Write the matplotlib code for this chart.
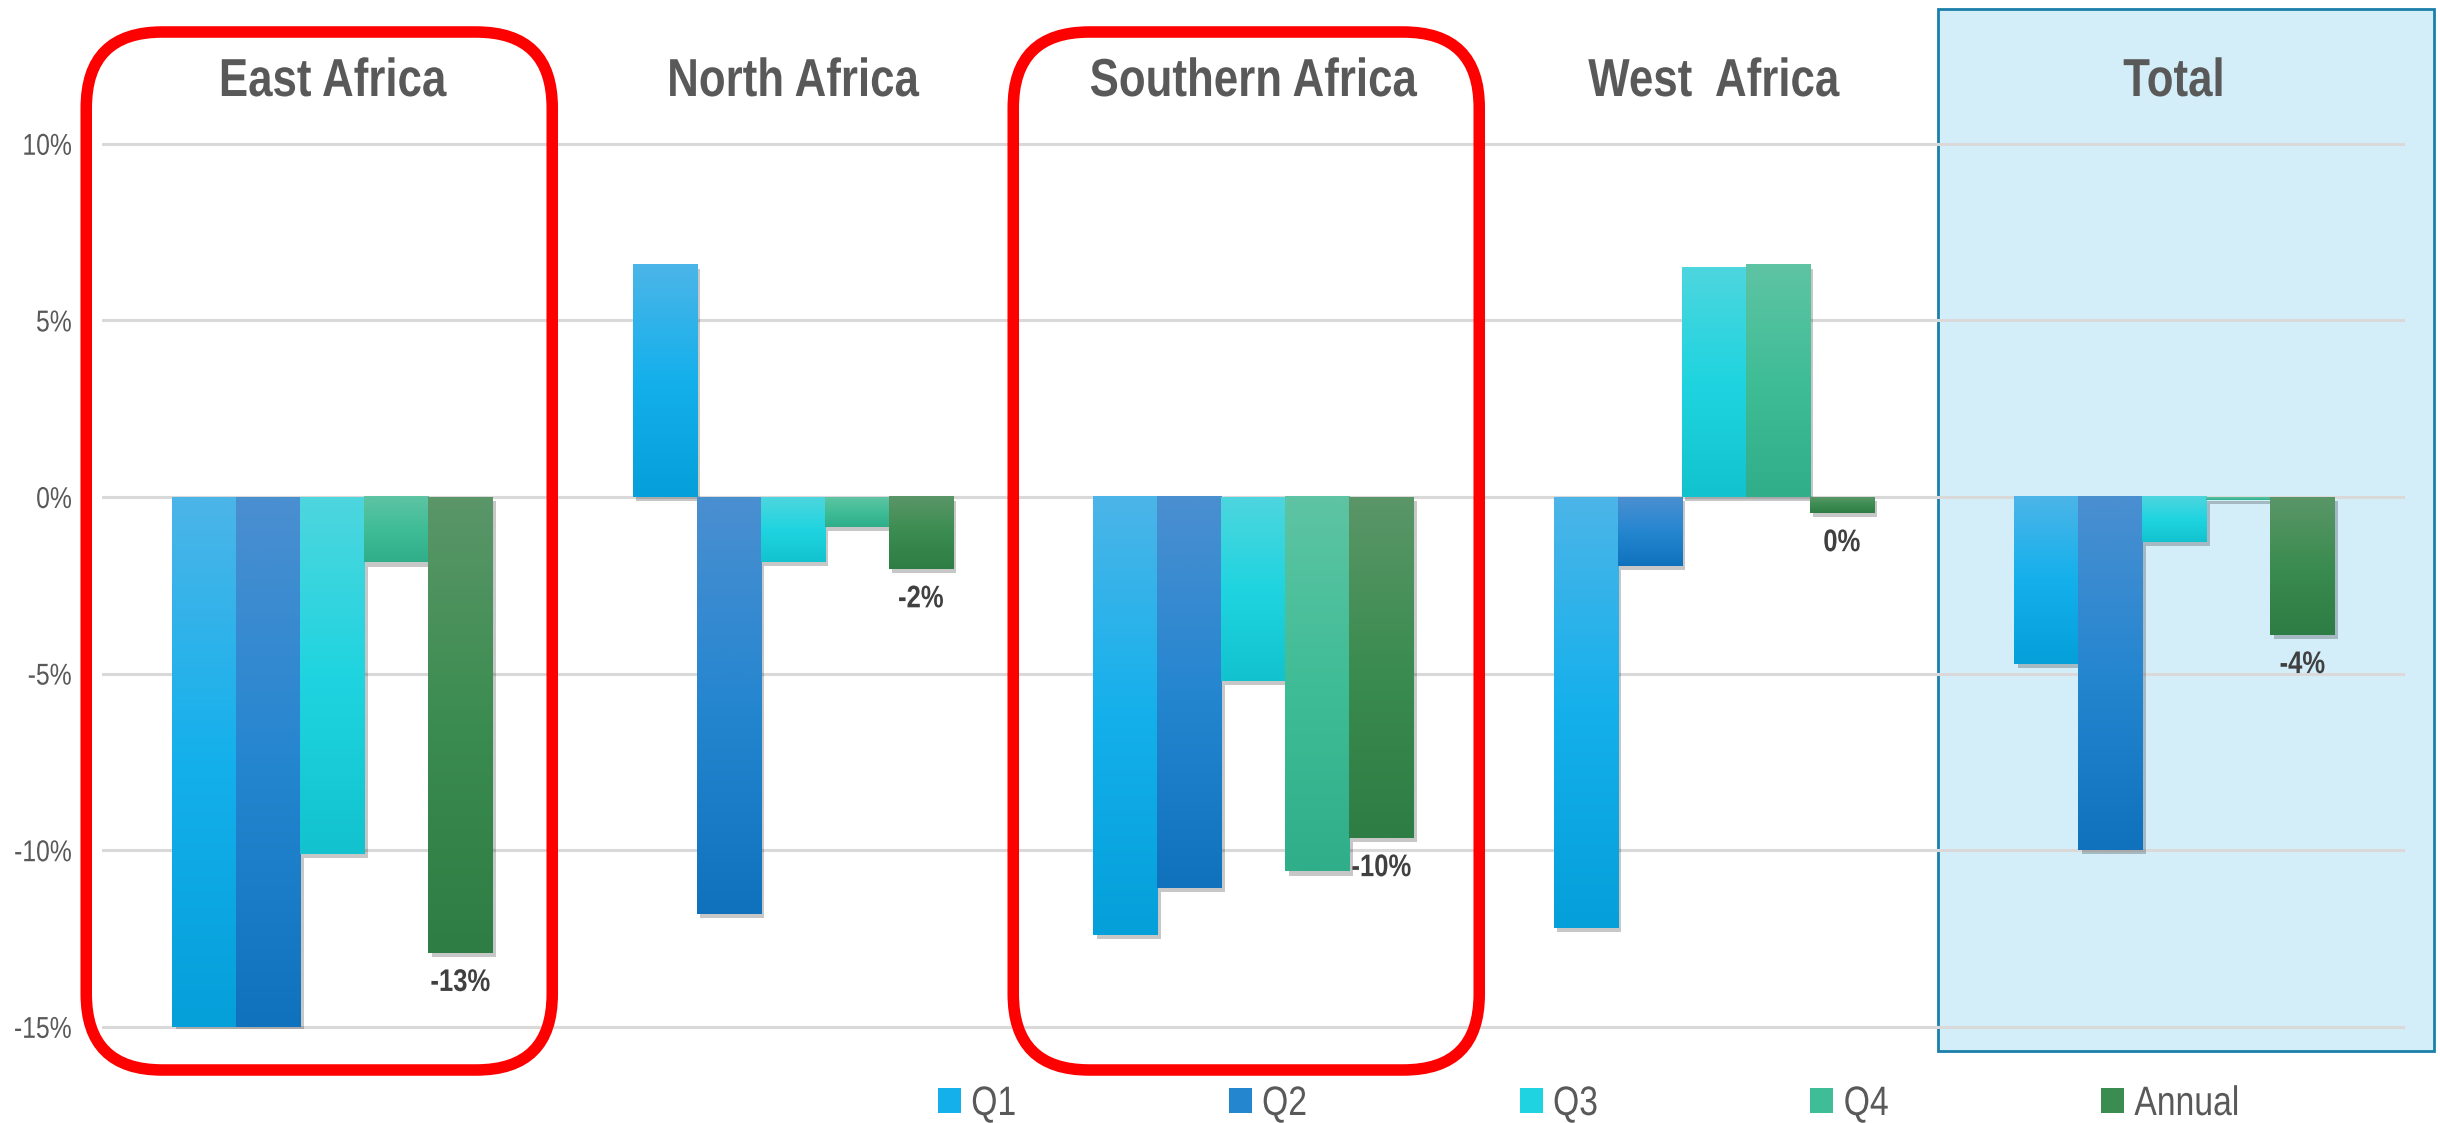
import numpy as np
import matplotlib.pyplot as plt
from matplotlib.patches import Patch, Rectangle, FancyBboxPatch
from matplotlib.ticker import PercentFormatter
from matplotlib.transforms import blended_transform_factory, Affine2D
import matplotlib.patheffects as pe

plt.rcParams["axes.unicode_minus"] = False

# data
regions = ["East Africa", "North Africa", "Southern Africa", "West  Africa", "Total"]
series = ["Q1", "Q2", "Q3", "Q4", "Annual"]
q1 = [-0.150, 0.0657, -0.124, -0.122, -0.0473]
q2 = [-0.150, -0.118, -0.1107, -0.0194, -0.100]
q3 = [-0.101, -0.0183, -0.052, 0.0651, -0.0128]
q4 = [-0.0185, -0.0084, -0.106, 0.0657, -0.0008]
annual = [-0.129, -0.0204, -0.0965, -0.0045, -0.039]
values = [q1, q2, q3, q4, annual]

# gradient colours (top, middle, bottom) per series
grad = {
    "Q1": ["#4bb5e8", "#14b0ec", "#05a0da"],
    "Q2": ["#4a8fd0", "#2586d0", "#1071bd"],
    "Q3": ["#4dd6de", "#1fd4e0", "#12c3cf"],
    "Q4": ["#5ec4a3", "#3fbd96", "#30ae8a"],
    "Annual": ["#5a9668", "#3b8c50", "#2e7d45"],
}
highlight = ["East Africa", "Southern Africa"]


class Condense(pe.AbstractPathEffect):
    """squeeze text horizontally, to look like a narrow font"""

    def __init__(self, factor=0.82, anchor="center"):
        super().__init__()
        self.factor = factor
        self.anchor = anchor

    def draw_path(self, renderer, gc, tpath, affine, rgbFace=None):
        ext = tpath.get_extents(affine)
        if self.anchor == "left":
            cx = ext.x0
        elif self.anchor == "right":
            cx = ext.x1
        else:
            cx = (ext.x0 + ext.x1) / 2
        a = affine + Affine2D().translate(-cx, 0).scale(self.factor, 1).translate(cx, 0)
        renderer.draw_path(gc, tpath, a, rgbFace)


W, H = 2440, 1123
fig = plt.figure(figsize=(W / 100, H / 100), dpi=100)
font = ["Liberation Sans", "DejaVu Sans"]
grey = "#595959"

ax = fig.add_axes([102 / W, 1 - 1028.6 / H, (2404.5 - 102) / W, (1028.6 - 142) / H])
ax.set_facecolor("none")
ax.set_xlim(-0.5, len(regions) - 0.5)
ax.set_ylim(-0.1505, 0.1005)
ax.set_yticks(np.arange(-0.15, 0.101, 0.05))
ax.yaxis.set_major_formatter(PercentFormatter(1.0, decimals=0))
ax.set_xticks([])
for s in ax.spines.values():
    s.set_visible(False)
ax.grid(axis="y", color="#d9d9d9", linewidth=2.2, zorder=0)
ax.set_axisbelow(True)
ax.tick_params(axis="y", length=0, pad=21.6, labelsize=21.7, labelcolor=grey)
for lab in ax.get_yticklabels():
    lab.set_family(font)
    lab.set_path_effects([Condense(0.82, "right")])


def hex2rgb(h):
    h = h.lstrip("#")
    return [int(h[i:i + 2], 16) / 255 for i in (0, 2, 4)]


width = 0.139
x = np.arange(len(regions))
shadow = [pe.SimplePatchShadow(offset=(2.5, -3), shadow_rgbFace="k", alpha=0.22), pe.Normal()]
for k, name in enumerate(series):
    pos = x + (k - 2) * width
    bars = ax.bar(pos, values[k], width, color=grad[name][1], zorder=2,
                  path_effects=shadow, linewidth=0)
    stops = np.array([hex2rgb(c) for c in grad[name]])
    t = np.linspace(0, 1, 64)
    col = np.stack([np.interp(t, [0, 0.5, 1], stops[:, c]) for c in range(3)], axis=1)
    img = col[:, None, :]
    for b, v in zip(bars, values[k]):
        x0 = b.get_x()
        ax.imshow(img, extent=[x0, x0 + width, min(0, v), max(0, v)],
                  origin="upper", aspect="auto", interpolation="bilinear", zorder=2.5)

ax.set_xlim(-0.5, len(regions) - 0.5)
ax.set_ylim(-0.1505, 0.1005)

# labels for annual bars
for i, v in enumerate(annual):
    ax.annotate(f"{int(round(v * 100))}%", (x[i] + 2 * width, v), xytext=(0, -11),
                textcoords="offset points", ha="center", va="top",
                fontsize=22.5, fontweight="bold", color="#404040", family=font, zorder=4,
                path_effects=[Condense(0.82)])

# region titles
tr = blended_transform_factory(ax.transData, fig.transFigure)
for i, r in enumerate(regions):
    ax.text(i, 1 - 96 / H, r, transform=tr, ha="center", va="baseline",
            fontsize=38.5, fontweight="bold", color=grey, family=font,
            path_effects=[Condense(0.82)])

# highlight boxes (pixel offsets of the drawn frame from the group centre)
box_span = {"East Africa": (-246, 220), "Southern Africa": (-240, 226)}
for r in highlight:
    i = regions.index(r)
    cx = ax.transData.transform((i, 0))[0]
    x0, x1 = cx + box_span[r][0], cx + box_span[r][1]
    y0, y1 = H - 1070, H - 32
    box = FancyBboxPatch((x0 / W, y0 / H), (x1 - x0) / W, (y1 - y0) / H,
                         boxstyle=f"round,pad=0,rounding_size={76 / W}",
                         mutation_aspect=W / H, transform=fig.transFigure,
                         facecolor="none", edgecolor="#ff0000", linewidth=8.3, zorder=5)
    fig.patches.append(box)

# total panel background
fig.patches.append(Rectangle((1938 / W, 1 - 1051 / H), (2434 - 1938) / W, (1051 - 9) / H,
                             transform=fig.transFigure, facecolor="#d4eef9",
                             edgecolor="#1b7faa", linewidth=2, zorder=-1))

# legend
handles = [Patch(facecolor=grad[s][1], edgecolor="none") for s in series]
fs = 29.6
leg = fig.legend(handles, series, loc="center left", bbox_to_anchor=(938 / W, 1 - 1104 / H),
                 ncol=5, frameon=False, borderpad=0, borderaxespad=0,
                 handlelength=23 / (fs * 100 / 72), handleheight=23 / (fs * 100 / 72),
                 handletextpad=0.24, columnspacing=4.94,
                 prop={"family": font, "size": fs}, labelcolor=grey)
for txt in leg.get_texts():
    txt.set_path_effects([Condense(0.82, "left")])

fig.savefig("out.png", dpi=100)
